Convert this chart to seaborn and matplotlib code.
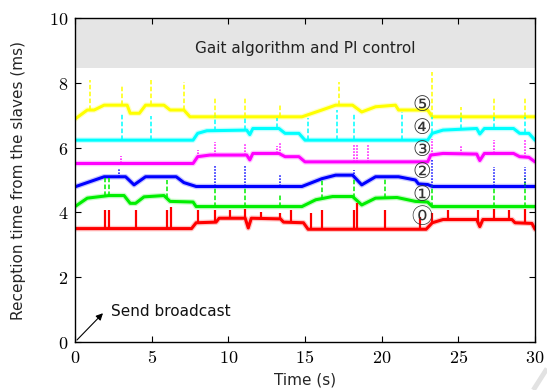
import numpy as np
import pandas as pd
import matplotlib
matplotlib.use("Agg")
import matplotlib.pyplot as plt
from matplotlib.lines import Line2D
import seaborn as sns

# ---------------- data ----------------
node0_t = [0, 7.6, 7.9, 9.2, 9.4, 11.1, 11.3, 11.5, 13.4, 13.6, 14.9, 15.2, 22.9, 23.3, 24.0, 26.2, 26.4, 26.6, 28.5, 28.7, 29.8, 30]
node0_v = [3.50, 3.50, 3.68, 3.70, 3.82, 3.82, 3.52, 3.82, 3.80, 3.70, 3.68, 3.48, 3.48, 3.68, 3.78, 3.78, 3.56, 3.78, 3.78, 3.68, 3.66, 3.48]

node1_t = [0, 0.8, 2.2, 3.2, 3.6, 3.95, 4.5, 5.8, 6.2, 7.7, 7.9, 14.8, 15.7, 16.8, 18.1, 18.7, 19.6, 21.0, 22.2, 23.0, 23.3, 30]
node1_v = [4.18, 4.44, 4.52, 4.52, 4.28, 4.28, 4.48, 4.52, 4.34, 4.32, 4.18, 4.18, 4.39, 4.49, 4.49, 4.23, 4.44, 4.46, 4.34, 4.32, 4.18, 4.18]

node2_t = [0, 1.9, 3.3, 3.85, 4.6, 6.6, 7.1, 7.9, 14.8, 16.1, 17.0, 18.1, 18.7, 19.6, 21.1, 22.2, 22.4, 23.0, 23.3, 30]
node2_v = [4.79, 5.10, 5.10, 4.85, 5.10, 5.10, 4.92, 4.80, 4.80, 5.04, 5.15, 5.15, 4.85, 5.10, 5.10, 5.00, 4.88, 4.86, 4.80, 4.80]

node3_t = [0, 7.7, 8.0, 8.8, 11.2, 11.4, 11.6, 13.3, 13.7, 14.6, 15.0, 23.0, 23.2, 24.0, 26.2, 26.4, 26.7, 28.6, 29.0, 29.6, 30]
node3_v = [5.51, 5.51, 5.72, 5.77, 5.77, 5.62, 5.82, 5.82, 5.72, 5.72, 5.56, 5.56, 5.77, 5.82, 5.80, 5.60, 5.82, 5.82, 5.72, 5.70, 5.56]

node4_t = [0, 7.7, 8.0, 8.6, 11.2, 11.4, 11.6, 13.3, 13.7, 14.6, 15.0, 23.0, 23.3, 24.0, 26.2, 26.4, 26.7, 28.6, 29.0, 29.6, 30]
node4_v = [6.23, 6.23, 6.44, 6.52, 6.54, 6.40, 6.59, 6.59, 6.44, 6.44, 6.23, 6.23, 6.44, 6.54, 6.59, 6.42, 6.59, 6.59, 6.44, 6.44, 6.23]

node5_t = [0, 0.8, 1.25, 1.9, 3.4, 3.6, 4.2, 4.6, 5.8, 6.2, 7.1, 7.5, 14.8, 16.1, 17.0, 18.1, 18.7, 19.6, 20.9, 21.1, 23.0, 23.3, 30]
node5_v = [6.88, 7.16, 7.16, 7.31, 7.31, 7.06, 7.06, 7.31, 7.31, 7.16, 7.16, 6.95, 6.95, 7.16, 7.31, 7.31, 7.10, 7.26, 7.31, 7.16, 7.16, 6.95, 6.95]

# spikes: time and peak value
spk0_t = [1.96, 2.24, 3.96, 5.98, 6.26, 8.05, 9.13, 10.1, 11.1, 12.1, 13.4, 14.1, 15.4, 16.1, 18.2, 18.4, 20.2, 22.5, 23.3, 24.3, 26.3, 27.35, 28.3, 29.35]
spk0_v = [4.07, 4.07, 4.07, 4.07, 4.17, 4.07, 4.07, 4.07, 4.12, 4.02, 3.97, 4.07, 3.97, 4.07, 4.07, 4.28, 4.07, 3.87, 3.97, 4.07, 4.07, 4.12, 4.07, 4.12]
spk1_t = [1.96, 2.24, 5.98, 9.1, 11.1, 13.4, 16.1, 18.2, 20.2, 23.3, 27.35, 29.35]
spk1_v = [5.05, 5.05, 4.99, 4.79, 4.74, 4.53, 4.99, 5.05, 5.05, 4.84, 4.79, 5.05]
spk2_t = [2.9, 9.1, 11.1, 13.4, 18.2, 23.3, 27.35, 29.35]
spk2_v = [5.36, 5.46, 5.46, 5.15, 5.30, 5.65, 5.41, 5.41]
spk3_t = [3.0, 8.05, 9.1, 11.1, 13.2, 13.4, 18.2, 18.4, 19.1, 23.3, 25.2, 27.35, 29.35]
spk3_v = [5.75, 5.93, 6.18, 6.13, 6.05, 6.13, 6.07, 6.07, 6.07, 6.28, 6.08, 6.23, 6.28]
spk4_t = [3.05, 4.95, 9.1, 11.1, 13.2, 15.2, 17.1, 18.2, 21.3, 23.3, 25.2, 27.35, 29.35]
spk4_v = [7.06, 6.96, 7.0, 6.9, 6.9, 6.9, 7.16, 7.06, 7.11, 7.0, 7.06, 6.96, 7.0]
spk5_t = [1.0, 3.05, 4.95, 7.1, 9.1, 11.1, 13.4, 17.2, 23.3, 25.2, 27.35, 29.35]
spk5_v = [8.09, 7.93, 8.09, 8.04, 7.57, 7.57, 7.35, 8.04, 8.34, 7.25, 7.57, 7.57]

node_labels = ["⓪", "①", "②", "③", "④", "⑤"]
label_t = 22.6
label_v = [3.85, 4.54, 5.26, 5.93, 6.60, 7.31]

x_ticks = [0, 5, 10, 15, 20, 25, 30]
y_ticks = [0, 2, 4, 6, 8, 10]
band_lo, band_hi = 8.45, 10.0
band_text = "Gait algorithm and PI control"
arrow_text = "Send broadcast"

# ---------------- style ----------------
colors = ["#ff0000", "#00ee00", "#0000ff", "#ff00ff", "#00ffff", "#ffff00"]
spike_styles = ["-", (0, (3, 1.5)), (0, (1, 1)), (0, (1, 1)), (0, (3, 1.5)), (0, (3, 1.5))]

sns.set_theme(style="ticks")
plt.rcParams["font.family"] = ["DejaVu Sans", "Noto Sans CJK SC"]
plt.rcParams["mathtext.fontset"] = "cm"

series_t = [node0_t, node1_t, node2_t, node3_t, node4_t, node5_t]
series_v = [node0_v, node1_v, node2_v, node3_v, node4_v, node5_v]
spikes_t = [spk0_t, spk1_t, spk2_t, spk3_t, spk4_t, spk5_t]
spikes_v = [spk0_v, spk1_v, spk2_v, spk3_v, spk4_v, spk5_v]

frames = []
for i, (t, v) in enumerate(zip(series_t, series_v)):
    frames.append(pd.DataFrame({"t": t, "v": v, "node": str(i)}))
df = pd.concat(frames, ignore_index=True)

fig = plt.figure(figsize=(5.47, 3.90), dpi=100)
ax = fig.add_axes([75 / 547, 1 - 342 / 390, 460 / 547, 324 / 390])

ax.axhspan(band_lo, band_hi, color="#e5e5e5", zorder=0, lw=0)
ax.text(15, 9.05, band_text, ha="center", va="center", fontsize=11, color="#222222")

palette = {str(i): c for i, c in enumerate(colors)}
# fuzzy halo, then core line
sns.lineplot(data=df, x="t", y="v", hue="node", palette=palette, estimator=None,
             sort=False, lw=4.0, alpha=0.22, legend=False, ax=ax)
sns.lineplot(data=df, x="t", y="v", hue="node", palette=palette, estimator=None,
             sort=False, lw=2.2, legend=False, ax=ax)

for i in range(6):
    base = np.interp(spikes_t[i], series_t[i], series_v[i])
    ax.vlines(spikes_t[i], base, spikes_v[i], colors=colors[i],
              linestyles=[spike_styles[i]], lw=1.6 if i == 0 else 1.1, zorder=3)

for lab, v in zip(node_labels, label_v):
    ax.text(label_t, v, lab, ha="center", va="center", fontsize=15, color="#333333", zorder=5)

ax.annotate("", xy=(1.95, 0.95), xytext=(0, 0),
            arrowprops=dict(arrowstyle="-|>", color="black", lw=0.8, mutation_scale=10))
ax.text(2.35, 0.95, arrow_text, ha="left", va="center", fontsize=11, color="#111111")

ax.set_xlim(0, 30)
ax.set_ylim(0, 10)
ax.set_xticks(x_ticks)
ax.set_yticks(y_ticks)
ax.set_xticklabels([f"${x}$" for x in x_ticks], fontsize=13)
ax.set_yticklabels([f"${y}$" for y in y_ticks], fontsize=13)
ax.tick_params(direction="in", length=4, width=0.8, top=True, right=True, colors="black", pad=5)
for s in ax.spines.values():
    s.set_visible(True)
    s.set_color("black")
    s.set_linewidth(1.0)
ax.set_xlabel("Time (s)", fontsize=11, labelpad=4)
ax.set_ylabel("Reception time from the slaves (ms)", fontsize=11, labelpad=16)

fig.add_artist(Line2D([0.975, 1.0], [0.0, 0.055], transform=fig.transFigure,
                      color="#e2e2e2", lw=3.5, solid_capstyle="butt"))

fig.savefig("out.png", dpi=100)
